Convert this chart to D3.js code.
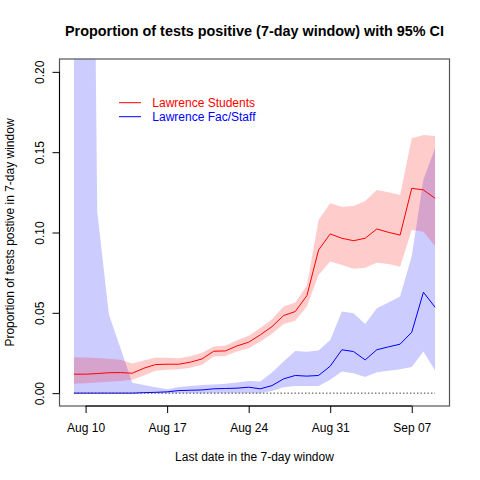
<!DOCTYPE html>
<html>
<head>
<meta charset="utf-8">
<script src="https://cdn.jsdelivr.net/npm/d3@7"></script>
<style>
  body { margin: 0; background: #fff; }
  text { font-family: "Liberation Sans", Arial, sans-serif; }
</style>
</head>
<body>
<svg id="chart" width="480" height="480"></svg>
<script>
// last day of each 7-day window
const dates = [
  "2020-08-09","2020-08-10","2020-08-11","2020-08-12","2020-08-13","2020-08-14","2020-08-15","2020-08-16",
  "2020-08-17","2020-08-18","2020-08-19","2020-08-20","2020-08-21","2020-08-22","2020-08-23","2020-08-24",
  "2020-08-25","2020-08-26","2020-08-27","2020-08-28","2020-08-29","2020-08-30","2020-08-31","2020-09-01",
  "2020-09-02","2020-09-03","2020-09-04","2020-09-05","2020-09-06","2020-09-07","2020-09-08","2020-09-09"
];

const studentRate = [0.0118,0.0118,0.0122,0.0127,0.0128,0.0124,0.0155,0.0178,0.0180,0.0180,0.0193,0.0213,0.0261,0.0263,0.0294,0.0317,
  0.0363,0.0414,0.0483,0.0508,0.0607,0.0891,0.0991,0.0964,0.0949,0.0964,0.1022,0.1001,0.0984,0.1275,0.1265,0.1213];
const studentLow = [0.0058,0.0062,0.0066,0.0071,0.0076,0.0083,0.0110,0.0139,0.0146,0.0148,0.0158,0.0176,0.0228,0.0232,0.0260,0.0280,
  0.0322,0.0370,0.0430,0.0450,0.0540,0.0736,0.0820,0.0798,0.0775,0.0780,0.0812,0.0804,0.0787,0.1016,0.1005,0.0916];
const studentHigh = [0.0224,0.0222,0.0219,0.0214,0.0208,0.0184,0.0203,0.0222,0.0220,0.0218,0.0230,0.0252,0.0290,0.0295,0.0330,0.0357,
  0.0405,0.0460,0.0540,0.0565,0.0670,0.1078,0.1182,0.1160,0.1165,0.1196,0.1264,0.1250,0.1233,0.1586,0.1607,0.1600];

const facRate = [0,0,0,0,0,0,0.0003,0.0005,0.0008,0.0016,0.0018,0.0020,0.0027,0.0029,0.0031,0.0037,
  0.0027,0.0047,0.0089,0.0110,0.0106,0.0110,0.0168,0.0270,0.0259,0.0207,0.0270,0.0288,0.0305,0.0379,0.0628,0.0535];
const facLow = [0,0,0,0,0,0,0,0,0,0,0,0,0,0,0,0,
  0,0.0014,0.0037,0.0045,0.0045,0.0045,0.0083,0.0134,0.0124,0.0100,0.0130,0.0140,0.0149,0.0162,0.0259,0.0141];
const facHigh = [0.975,0.842,0.113,0.049,0.028,0.0065,0.0050,0.0037,0.0025,0.0039,0.0045,0.0050,0.0054,0.0058,0.0066,0.0076,
  0.0072,0.0128,0.0197,0.0263,0.0257,0.0265,0.0331,0.0508,0.0497,0.0431,0.0529,0.0565,0.0601,0.0854,0.1330,0.1524];

const xTicks = ["2020-08-10","2020-08-17","2020-08-24","2020-08-31","2020-09-07"];
const yTicks = [0, 0.05, 0.10, 0.15, 0.20];
const seriesNames = ["Lawrence Students", "Lawrence Fac/Staff"];

const parse = d3.timeParse("%Y-%m-%d");
const days = dates.map(parse);

const svg = d3.select("#chart");
const plotL = 59.5, plotR = 449.5, plotT = 59, plotB = 406;

// R style 4% padding on both axes
const pad = (days[days.length - 1] - days[0]) * 0.04;
const x = d3.scaleTime()
  .domain([new Date(+days[0] - pad), new Date(+days[days.length - 1] + pad)])
  .range([plotL, plotR]);
const y = d3.scaleLinear().domain([-0.008, 0.208]).range([plotB, plotT]);

svg.append("clipPath").attr("id", "plotclip")
  .append("rect").attr("x", plotL).attr("y", plotT)
  .attr("width", plotR - plotL).attr("height", plotB - plotT);

const plot = svg.append("g").attr("clip-path", "url(#plotclip)");

function band(lo, hi) {
  return d3.area()
    .x((d, i) => x(days[i]))
    .y0((d, i) => y(lo[i]))
    .y1((d, i) => y(hi[i]))(days);
}
function line(vals) {
  return d3.line()
    .x((d, i) => x(days[i]))
    .y((d, i) => y(vals[i]))(days);
}

plot.append("path").attr("d", band(facLow, facHigh)).attr("fill", "rgba(0,0,255,0.2)");
plot.append("path").attr("d", band(studentLow, studentHigh)).attr("fill", "rgba(255,0,0,0.2)");

plot.append("path").attr("d", line(studentRate)).attr("fill", "none").attr("stroke", "#ff0000").attr("stroke-width", 1);
plot.append("path").attr("d", line(facRate)).attr("fill", "none").attr("stroke", "#0000ff").attr("stroke-width", 1);

// dotted zero line over the data range
plot.append("line")
  .attr("x1", x(days[0])).attr("x2", x(days[days.length - 1]))
  .attr("y1", y(0)).attr("y2", y(0))
  .attr("stroke", "#444").attr("stroke-width", 1).attr("stroke-dasharray", "1.5,2");

// box
svg.append("rect")
  .attr("x", plotL).attr("y", plotT)
  .attr("width", plotR - plotL).attr("height", plotB - plotT)
  .attr("fill", "none").attr("stroke", "#555").attr("stroke-width", 1.2);

// axes
const fmtDate = d3.timeFormat("%b %d");
const xAxis = svg.append("g").attr("transform", `translate(0,${plotB})`)
  .call(d3.axisBottom(x).tickValues(xTicks.map(parse)).tickSize(7).tickPadding(10).tickFormat(fmtDate));
xAxis.select(".domain").remove();
xAxis.selectAll("line").attr("stroke", "#000");
xAxis.selectAll("text").attr("font-size", 12).attr("fill", "#000").attr("font-family", null);
xAxis.append("line")
  .attr("x1", x(parse(xTicks[0]))).attr("x2", x(parse(xTicks[xTicks.length - 1])))
  .attr("stroke", "#000");

const yAxis = svg.append("g").attr("transform", `translate(${plotL},0)`)
  .call(d3.axisLeft(y).tickValues(yTicks).tickSize(7).tickFormat(d3.format(".2f")));
yAxis.select(".domain").remove();
yAxis.selectAll("line").attr("stroke", "#000");
yAxis.selectAll("text")
  .attr("font-size", 12).attr("fill", "#000").attr("font-family", null)
  .attr("text-anchor", "middle").attr("x", 0).attr("y", 0).attr("dy", null)
  .attr("transform", "translate(-15.5,0) rotate(-90)");
yAxis.append("line")
  .attr("y1", y(yTicks[0])).attr("y2", y(yTicks[yTicks.length - 1]))
  .attr("stroke", "#000");

// titles
svg.append("text")
  .attr("x", (plotL + plotR) / 2).attr("y", 36)
  .attr("text-anchor", "middle").attr("font-size", 14.4).attr("font-weight", "bold")
  .text("Proportion of tests positive (7-day window) with 95% CI");
svg.append("text")
  .attr("x", (plotL + plotR) / 2).attr("y", 461)
  .attr("text-anchor", "middle").attr("font-size", 12)
  .text("Last date in the 7-day window");
svg.append("text")
  .attr("transform", `translate(13.5,${(plotT + plotB) / 2}) rotate(-90)`)
  .attr("text-anchor", "middle").attr("font-size", 12)
  .text("Proportion of tests postive in 7-day window");

// legend
const legendColors = ["#ff0000", "#0000ff"];
const legend = svg.append("g");
seriesNames.forEach((name, i) => {
  const ly = 102.7 + i * 14;
  legend.append("line")
    .attr("x1", 119).attr("x2", 141).attr("y1", ly).attr("y2", ly)
    .attr("stroke", legendColors[i]).attr("stroke-width", 1);
  legend.append("text")
    .attr("x", 152.3).attr("y", ly + 4.2)
    .attr("font-size", 12).attr("fill", legendColors[i])
    .text(name);
});
</script>
</body>
</html>
